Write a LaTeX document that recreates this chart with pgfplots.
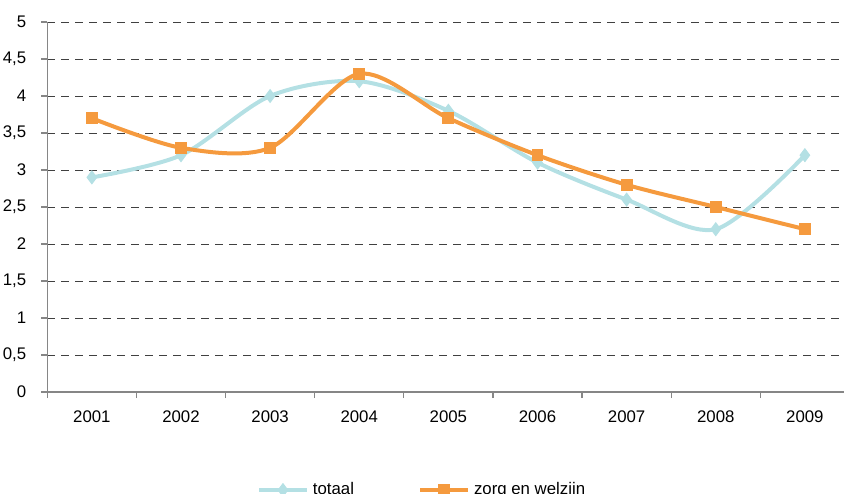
\documentclass[border=0pt]{standalone}
\usepackage{fontspec}
\setmainfont{Liberation Sans}
\usepackage{pgfplots}
\pgfplotsset{compat=1.18}

\definecolor{totaalc}{HTML}{B4E0E4}
\definecolor{zorgc}{HTML}{F59A3E}
\definecolor{axisgray}{HTML}{868686}

\begin{document}
\begin{tikzpicture}
\begin{axis}[
    name=ax,
    scale only axis,
    width=398.4pt,
    height=185pt,
    xmin=0.5, xmax=9.44,
    ymin=0, ymax=5,
    axis x line=bottom,
    axis y line=left,
    axis line style={-, draw=axisgray, line width=0.6pt},
    xtick={0.5,1.5,...,8.5},
    xticklabels={2001,2002,2003,2004,2005,2006,2007,2008,2009},
    xticklabel style={xshift=22.28pt},
    ytick={0,0.5,...,5},
    tick align=outside,
    major tick length=3pt,
    tick style={draw=axisgray, line width=0.6pt},
    ymajorgrids,
    major grid style={dash pattern=on 4pt off 3pt, draw=black!75, line width=0.5pt},
    /pgf/number format/use comma,
    /pgf/number format/fixed,
    /pgf/number format/assume math mode=true,
    tick label style={font=\fontsize{8.4}{10}\selectfont},
    y tick label style={xshift=-4pt},
    x tick label style={yshift=-3pt},
    legend columns=2,
    legend style={at={(0.4716,-0.265)}, anchor=center, draw=none, fill=none,
        font=\fontsize{8.4}{10}\selectfont,
        /tikz/every even column/.append style={column sep=30pt}},
    legend image code/.code={
        \draw[#1, mark repeat=2, mark phase=2] plot coordinates {(0pt,0pt) (12pt,0pt) (24pt,0pt)};
    },
]
\addplot[smooth, color=totaalc, line width=2pt, mark=diamond*, mark size=3.2pt,
    mark options={fill=totaalc, draw=totaalc, line width=0.5pt}] coordinates {
    (1,2.9) (2,3.2) (3,4.0) (4,4.2) (5,3.8) (6,3.1) (7,2.6) (8,2.2) (9,3.2)
};
\addlegendentry{totaal}
\addplot[smooth, color=zorgc, line width=2pt, mark=square*, mark size=2.7pt,
    mark options={fill=zorgc, draw=zorgc, line width=0.5pt}] coordinates {
    (1,3.7) (2,3.3) (3,3.3) (4,4.3) (5,3.7) (6,3.2) (7,2.8) (8,2.5) (9,2.2)
};
\addlegendentry{zorg en welzijn}
\end{axis}
\pgfresetboundingbox
\path[use as bounding box] ([shift={(-23.65pt,-50.5pt)}]ax.south west) rectangle ([shift={(398.35pt,196pt)}]ax.south west);
\end{tikzpicture}
\end{document}
